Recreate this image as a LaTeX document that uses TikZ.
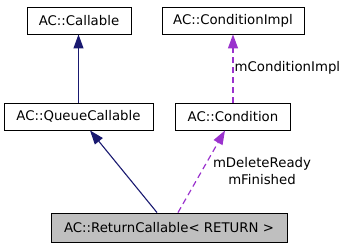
\documentclass[tikz,border=0pt]{standalone}
\usepackage{fontspec}
\setmainfont{DejaVu Sans}
\usetikzlibrary{arrows.meta}
\definecolor{inheritblue}{HTML}{191970}
\definecolor{usagepurple}{HTML}{9A32CD}
\definecolor{focusgray}{HTML}{BFBFBF}
\begin{document}
\begin{tikzpicture}[x=1pt,y=-1pt,
  font=\fontsize{13.3}{16.5}\selectfont,
  classbox/.style={draw=black, line width=0.9pt, fill=white, inner sep=0pt,
    minimum height=27pt},
  inherit/.style={draw=inheritblue, line width=1.1pt,
    -{Triangle[length=14pt,width=10pt]}, color=inheritblue},
  usage/.style={draw=usagepurple, line width=1.2pt, dash pattern=on 6pt off 4pt,
    -{Triangle[length=14pt,width=10pt]}, color=usagepurple},
  edgelabel/.style={inner sep=0pt, align=center}]
\useasboundingbox (0,0) rectangle (344,248);

% classes
\node[classbox, minimum width=104pt] (callable) at (79,20.5) {AC::Callable};
\node[classbox, minimum width=142pt] (condimpl) at (233,20.5) {AC::ConditionImpl};
\node[classbox, minimum width=149pt] (queue) at (78.5,116.5) {AC::QueueCallable};
\node[classbox, minimum width=115pt] (cond) at (233,116.5) {AC::Condition};
\node[classbox, minimum width=236pt, minimum height=29pt, fill=focusgray]
  (ret) at (169,227.5) {AC::ReturnCallable< RETURN >};

% inheritance
\draw[inherit] (queue.north) -- (queue.north |- callable.south);
\draw[inherit] ([xshift=-12pt]ret.north) -- ([xshift=11.5pt]queue.south);

% member usage
\draw[usage] (cond.north) -- (cond.north |- condimpl.south);
\draw[usage] ([xshift=9pt]ret.north) -- ([xshift=-8pt]cond.south);

% member names
\node[edgelabel, anchor=west] (lblimpl) at (234.5,68) {mConditionImpl};
\node[edgelabel] (lblret) at (262,171) {mDeleteReady\\mFinished};
\end{tikzpicture}
\end{document}
